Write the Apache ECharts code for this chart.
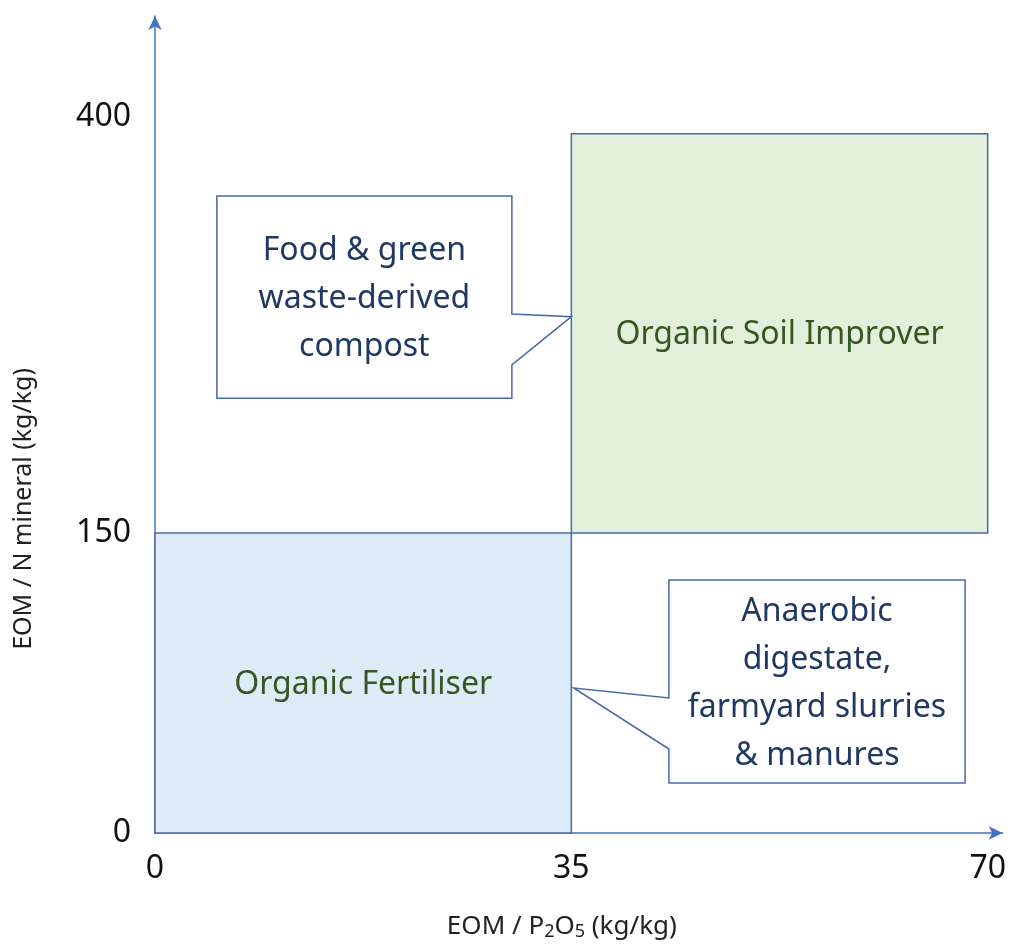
<!DOCTYPE html>
<html>
<head>
<meta charset="utf-8">
<script src="https://cdn.jsdelivr.net/npm/echarts@6/dist/echarts.min.js"></script>
<style>
  html, body { margin: 0; padding: 0; background: #fff; }
  #main { width: 1009px; height: 949px; }
</style>
</head>
<body>
<div id="main"></div>
<script>
  // tick labels
  const xTicks = [0, 35, 70];
  const yTicks = [0, 150, 400];

  // the two classification areas
  const regionNames = ['Organic Fertiliser', 'Organic Soil Improver'];
  const regionX = [[0, 35], [35, 70]];
  const regionY = [[0, 150], [150, 390]];
  const regionFill = ['#deebf7', '#e2efda'];

  // callouts
  const calloutText = [
    'Food & green\nwaste-derived\ncompost',
    'Anaerobic\ndigestate,\nfarmyard slurries\n& manures'
  ];
  const calloutX = [[5.2, 30.0], [43.2, 68.1]];
  const calloutY = [[231, 352.5], [25, 126.5]];
  const calloutTip = [[35, 280], [35.2, 72.5]];
  const calloutBase = [[251, 281.6], [42, 67.5]];

  // the y axis of the schematic is not linear above 150
  function yPos(v) {
    return v <= 150 ? v : 150 + (v - 150) * 0.832;
  }

  const FONT = '"Noto Sans", "Open Sans", sans-serif';
  const BORDER = '#4a69a6';

  const chart = echarts.init(document.getElementById('main'));
  chart.setOption({
    animation: false,
    grid: { left: 155, right: 6, top: 16, bottom: 116 },
    xAxis: {
      type: 'value',
      min: 0,
      max: 71.26,
      name: 'EOM / P{sub|2}O{sub|5} (kg/kg)',
      nameLocation: 'middle',
      nameGap: 80,
      nameTextStyle: {
        fontFamily: FONT, fontSize: 26, color: '#222',
        padding: [0, 34, 0, 0],
        rich: { sub: { fontFamily: FONT, fontSize: 18, color: '#222', padding: [10, 0, 0, 0] } }
      },
      axisLine: {
        lineStyle: { color: '#4472c4', width: 1.5 },
        symbol: ['none', 'arrow'], symbolSize: [10, 14]
      },
      axisTick: { show: false },
      splitLine: { show: false },
      axisLabel: {
        customValues: xTicks,
        margin: 20,
        fontFamily: FONT, fontSize: 32, color: '#111'
      }
    },
    yAxis: {
      type: 'value',
      min: 0,
      max: 408.5,
      axisLine: {
        show: true,
        lineStyle: { color: '#4472c4', width: 1.5 },
        symbol: ['none', 'arrow'], symbolSize: [10, 14]
      },
      axisTick: { show: false },
      splitLine: { show: false },
      axisLabel: {
        customValues: yTicks.map(yPos),
        formatter: function (v) {
          const i = yTicks.map(yPos).indexOf(v);
          return i >= 0 ? String(yTicks[i]) : '';
        },
        margin: 24,
        fontFamily: FONT, fontSize: 32, color: '#111'
      }
    },
    graphic: [{
      type: 'text',
      left: 11,
      top: 368,
      rotation: Math.PI / 2,
      style: {
        text: 'EOM / N mineral (kg/kg)',
        fontFamily: FONT, fontSize: 25, fill: '#222'
      }
    }],
    series: [
      {
        type: 'custom',
        name: 'regions',
        data: regionNames.map((n, i) => [regionX[i][0], regionX[i][1], regionY[i][0], regionY[i][1]]),
        renderItem: function (params, api) {
          const i = params.dataIndex;
          const p0 = api.coord([api.value(0), yPos(api.value(3))]);
          const p1 = api.coord([api.value(1), yPos(api.value(2))]);
          return {
            type: 'group',
            children: [
              {
                type: 'rect',
                shape: { x: p0[0], y: p0[1], width: p1[0] - p0[0], height: p1[1] - p0[1] },
                style: { fill: regionFill[i], stroke: BORDER, lineWidth: 1.5 }
              },
              {
                type: 'text',
                style: {
                  text: regionNames[i],
                  x: (p0[0] + p1[0]) / 2, y: (p0[1] + p1[1]) / 2 + 2,
                  align: 'center', verticalAlign: 'middle',
                  fontFamily: FONT, fontSize: 32, fill: '#375623'
                }
              }
            ]
          };
        }
      },
      {
        type: 'custom',
        name: 'callouts',
        data: calloutText.map((t, i) => [calloutX[i][0], calloutX[i][1], calloutY[i][0], calloutY[i][1],
          calloutTip[i][0], calloutTip[i][1], calloutBase[i][0], calloutBase[i][1]]),
        renderItem: function (params, api) {
          const i = params.dataIndex;
          const tl = api.coord([api.value(0), yPos(api.value(3))]);
          const br = api.coord([api.value(1), yPos(api.value(2))]);
          const tip = api.coord([api.value(4), yPos(api.value(5))]);
          const bLow = api.coord([0, yPos(api.value(6))])[1];
          const bHigh = api.coord([0, yPos(api.value(7))])[1];
          let pts;
          if (tip[0] > br[0]) {
            pts = [[tl[0], tl[1]], [br[0], tl[1]], [br[0], bHigh], tip, [br[0], bLow], [br[0], br[1]], [tl[0], br[1]]];
          } else {
            pts = [[tl[0], tl[1]], [br[0], tl[1]], [br[0], br[1]], [tl[0], br[1]], [tl[0], bLow], tip, [tl[0], bHigh]];
          }
          return {
            type: 'group',
            children: [
              {
                type: 'polygon',
                shape: { points: pts },
                style: { fill: '#fff', stroke: BORDER, lineWidth: 1.5 }
              },
              {
                type: 'text',
                style: {
                  text: calloutText[i],
                  x: (tl[0] + br[0]) / 2, y: (tl[1] + br[1]) / 2 + 2,
                  align: 'center', verticalAlign: 'middle',
                  lineHeight: 48,
                  fontFamily: FONT, fontSize: 32, fill: '#1f3864'
                }
              }
            ]
          };
        }
      }
    ]
  });
</script>
</body>
</html>
